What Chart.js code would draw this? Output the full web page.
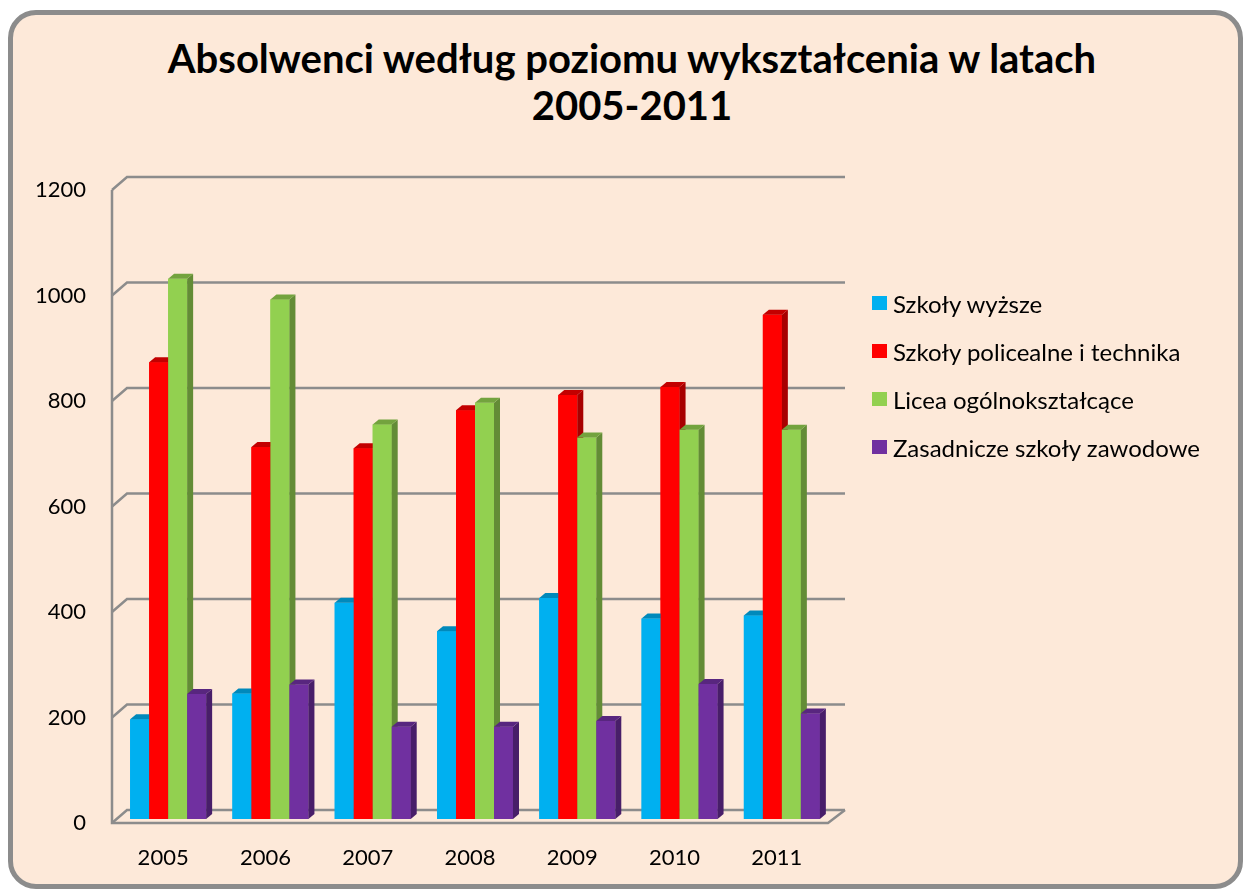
<!DOCTYPE html>
<html>
<head>
<meta charset="utf-8">
<script src="https://cdn.jsdelivr.net/npm/chart.js@4.4.1/dist/chart.umd.min.js"></script>
<style>
html,body{margin:0;padding:0;background:#fff;width:1246px;height:890px;overflow:hidden;}
#frame{position:absolute;left:8px;top:10px;width:1225px;height:869px;border:5px solid #8c8c8c;border-radius:28px;background:#fde9d9;}
#c{position:absolute;left:0;top:0;}
#title{position:absolute;left:82px;width:1100px;top:35px;text-align:center;font-family:Lato,sans-serif;font-weight:bold;font-size:40px;line-height:47px;color:#000;}
#legend{position:absolute;left:872px;top:279px;font-family:Lato,sans-serif;font-size:24px;color:#000;}
.item{display:flex;align-items:center;height:48px;white-space:nowrap;}
.sw{width:15px;height:14px;margin-right:6px;flex:none;}
</style>
</head>
<body>
<div id="frame"></div>
<div id="title">Absolwenci według poziomu wykształcenia w latach<br>2005-2011</div>
<canvas id="c" width="1246" height="890"></canvas>
<div id="legend"></div>
<script>
const years = ['2005', '2006', '2007', '2008', '2009', '2010', '2011'];
const seriesNames = ['Szkoły wyższe', 'Szkoły policealne i technika', 'Licea ogólnokształcące', 'Zasadnicze szkoły zawodowe'];
const szkolyWyzsze = [189, 238, 410, 356, 419, 380, 386];
const szkolyPolicealne = [866, 705, 703, 775, 804, 819, 956];
const liceaOgolnoksztalcace = [1024, 985, 748, 789, 723, 738, 738];
const zasadniczeZawodowe = [237, 255, 175, 175, 186, 256, 200];
const yTicks = [0, 200, 400, 600, 800, 1000, 1200];

const frontColors = ['#00b0f0', '#ff0000', '#92d050', '#7030a0'];
const topColors = ['#0089bb', '#c20000', '#73a33e', '#58267f'];
const sideColors = ['#0090c4', '#a80000', '#638c36', '#481e69'];
const seriesValues = [szkolyWyzsze, szkolyPolicealne, liceaOgolnoksztalcace, zasadniczeZawodowe];

// legend
const legendEl = document.getElementById('legend');
seriesNames.forEach((n, i) => {
  const d = document.createElement('div'); d.className = 'item';
  const s = document.createElement('span'); s.className = 'sw'; s.style.background = frontColors[i];
  const t = document.createElement('span'); t.textContent = n;
  d.appendChild(s); d.appendChild(t); legendEl.appendChild(d);
});

const DX = 6, DY = 5;
const depth3d = {
  id: 'depth3d',
  beforeDatasetsDraw(chart) {
    const { ctx, chartArea: a, scales: { y } } = chart;
    ctx.save();
    ctx.strokeStyle = '#8c8c8c';
    ctx.lineWidth = 2.5;
    const fx = a.left - 5, fr = a.right - 5, bx = a.left + 10, br = a.right + 12;
    yTicks.forEach(v => {
      const yb = y.getPixelForValue(v);
      ctx.beginPath();
      ctx.moveTo(fx, yb + 4);
      ctx.lineTo(bx, yb - 9);
      ctx.lineTo(br, yb - 9);
      ctx.stroke();
    });
    const y0 = y.getPixelForValue(0) + 4, yt = y.getPixelForValue(1200) + 4;
    ctx.beginPath();
    ctx.moveTo(fx, yt);
    ctx.lineTo(fx, y0);
    ctx.lineTo(fr, y0);
    ctx.lineTo(br, y0 - 13);
    ctx.stroke();
    ctx.restore();
  },
  afterDatasetsDraw(chart) {
    const { ctx } = chart;
    ctx.save();
    // redraw each series left to right so that each bar's front hides the previous bar's side
    for (let i = 0; i < chart.data.datasets.length; i++) {
      const meta = chart.getDatasetMeta(i);
      meta.data.forEach(el => {
        const p = el.getProps(['x', 'y', 'base', 'width'], true);
        const l = p.x - p.width / 2, r = p.x + p.width / 2, t = p.y, b = p.base;
        ctx.fillStyle = frontColors[i];
        ctx.fillRect(l, t, r - l, b - t);
        ctx.fillStyle = sideColors[i];
        ctx.beginPath();
        ctx.moveTo(r, t); ctx.lineTo(r + DX, t - DY); ctx.lineTo(r + DX, b - DY); ctx.lineTo(r, b);
        ctx.closePath(); ctx.fill();
        ctx.fillStyle = topColors[i];
        ctx.beginPath();
        ctx.moveTo(l, t); ctx.lineTo(l + DX, t - DY); ctx.lineTo(r + DX, t - DY); ctx.lineTo(r, t);
        ctx.closePath(); ctx.fill();
      });
    }
    ctx.restore();
  }
};

function draw() {
  new Chart(document.getElementById('c'), {
    type: 'bar',
    data: {
      labels: years,
      datasets: seriesValues.map((vals, i) => ({
        label: seriesNames[i],
        data: vals,
        backgroundColor: frontColors[i],
        borderWidth: 0,
        categoryPercentage: 0.743,
        barPercentage: 1.0
      }))
    },
    options: {
      responsive: false,
      animation: false,
      devicePixelRatio: 1,
      layout: { padding: { left: 0, right: 413, top: 186, bottom: 21 } },
      plugins: { legend: { display: false }, title: { display: false }, tooltip: { enabled: false } },
      scales: {
        x: {
          grid: { display: false, drawTicks: false },
          border: { display: false },
          ticks: { font: { family: 'Lato', size: 22 }, color: '#000', padding: 26, labelOffset: -5, maxRotation: 0 },
          afterFit(s) { s.height = 50; }
        },
        y: {
          min: 0, max: 1200,
          grid: { display: false, drawTicks: false },
          border: { display: false },
          ticks: { stepSize: 200, font: { family: 'Lato', size: 22 }, color: '#000', padding: 31, labelOffset: 4,
                   callback: v => String(v) },
          afterFit(s) { s.width = 117; }
        }
      }
    },
    plugins: [depth3d]
  });
}
document.fonts.load('22px Lato').then(draw, draw);
</script>
</body>
</html>
